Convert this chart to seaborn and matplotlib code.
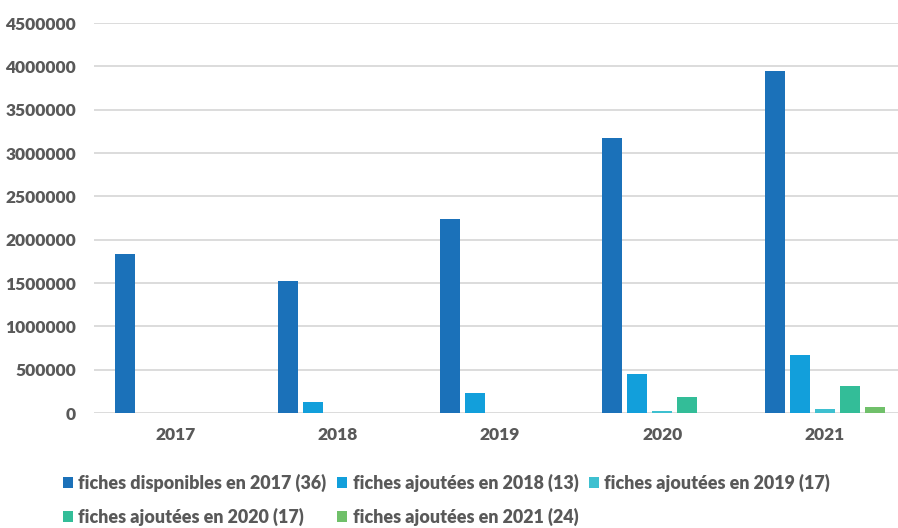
import matplotlib
matplotlib.use("Agg")
import matplotlib.pyplot as plt
import seaborn as sns
import pandas as pd
import numpy as np

years = ["2017", "2018", "2019", "2020", "2021"]
series = [
    "fiches disponibles en 2017 (36)",
    "fiches ajoutées en 2018 (13)",
    "fiches ajoutées en 2019 (17)",
    "fiches ajoutées en 2020 (17)",
    "fiches ajoutées en 2021 (24)",
]
dispo_2017 = [1835000, 1525000, 2235000, 3175000, 3945000]
ajout_2018 = [np.nan, 127000, 234000, 445000, 669000]
ajout_2019 = [np.nan, np.nan, np.nan, 23000, 43000]
ajout_2020 = [np.nan, np.nan, np.nan, 188000, 308000]
ajout_2021 = [np.nan, np.nan, np.nan, np.nan, 69000]
colors = ["#1b71b9", "#129fdb", "#3ec0d0", "#33bd98", "#70c06a"]

values = [dispo_2017, ajout_2018, ajout_2019, ajout_2020, ajout_2021]
rows = []
for s, vals in zip(series, values):
    for y, v in zip(years, vals):
        if not np.isnan(v):
            rows.append({"year": y, "serie": s, "value": v})
df = pd.DataFrame(rows)

sns.set_theme(style="white")
plt.rcParams["font.family"] = ["Lato", "DejaVu Sans"]
plt.rcParams["font.weight"] = "bold"

fig = plt.figure(figsize=(8.98, 5.28), dpi=100)
ax = fig.add_axes([94 / 898, 115 / 528, 812 / 898, 390 / 528])

sns.barplot(data=df, x="year", y="value", hue="serie", order=years,
            hue_order=series, palette=colors, width=0.77, gap=0.2,
            saturation=1, linewidth=0, ax=ax, legend=True)

ax.set_xlim(-0.5, 4.5)
ax.set_ylim(0, 4500000)
ax.set_yticks(np.arange(0, 4500001, 500000))
ax.set_yticklabels([f"{int(v)}" for v in np.arange(0, 4500001, 500000)])
ax.yaxis.grid(True, color="#d9d9d9", linewidth=1.3)
ax.set_axisbelow(True)
for sp in ax.spines.values():
    sp.set_visible(False)
ax.set_xlabel("")
ax.set_ylabel("")
ax.tick_params(axis="y", length=0, pad=13, labelsize=12.5, labelcolor="#595959")
ax.tick_params(axis="x", length=0, pad=10, labelsize=12.5, labelcolor="#595959")
for t in ax.get_xticklabels() + ax.get_yticklabels():
    t.set_fontweight("heavy")

handles, labels = ax.get_legend_handles_labels()
ax.get_legend().remove()
order = [0, 3, 1, 4, 2]
leg = fig.legend([handles[i] for i in order], [labels[i] for i in order],
                 ncol=3, frameon=False, loc="upper left",
                 bbox_to_anchor=(56 / 898, 1 - 467 / 528),
                 handlelength=0.55, handleheight=0.55, handletextpad=0.3,
                 columnspacing=0.6, labelspacing=0.85, borderaxespad=0,
                 prop={"size": 12.9, "weight": "heavy"})
for t in leg.get_texts():
    t.set_color("#595959")

fig.savefig("out.png", dpi=100)
